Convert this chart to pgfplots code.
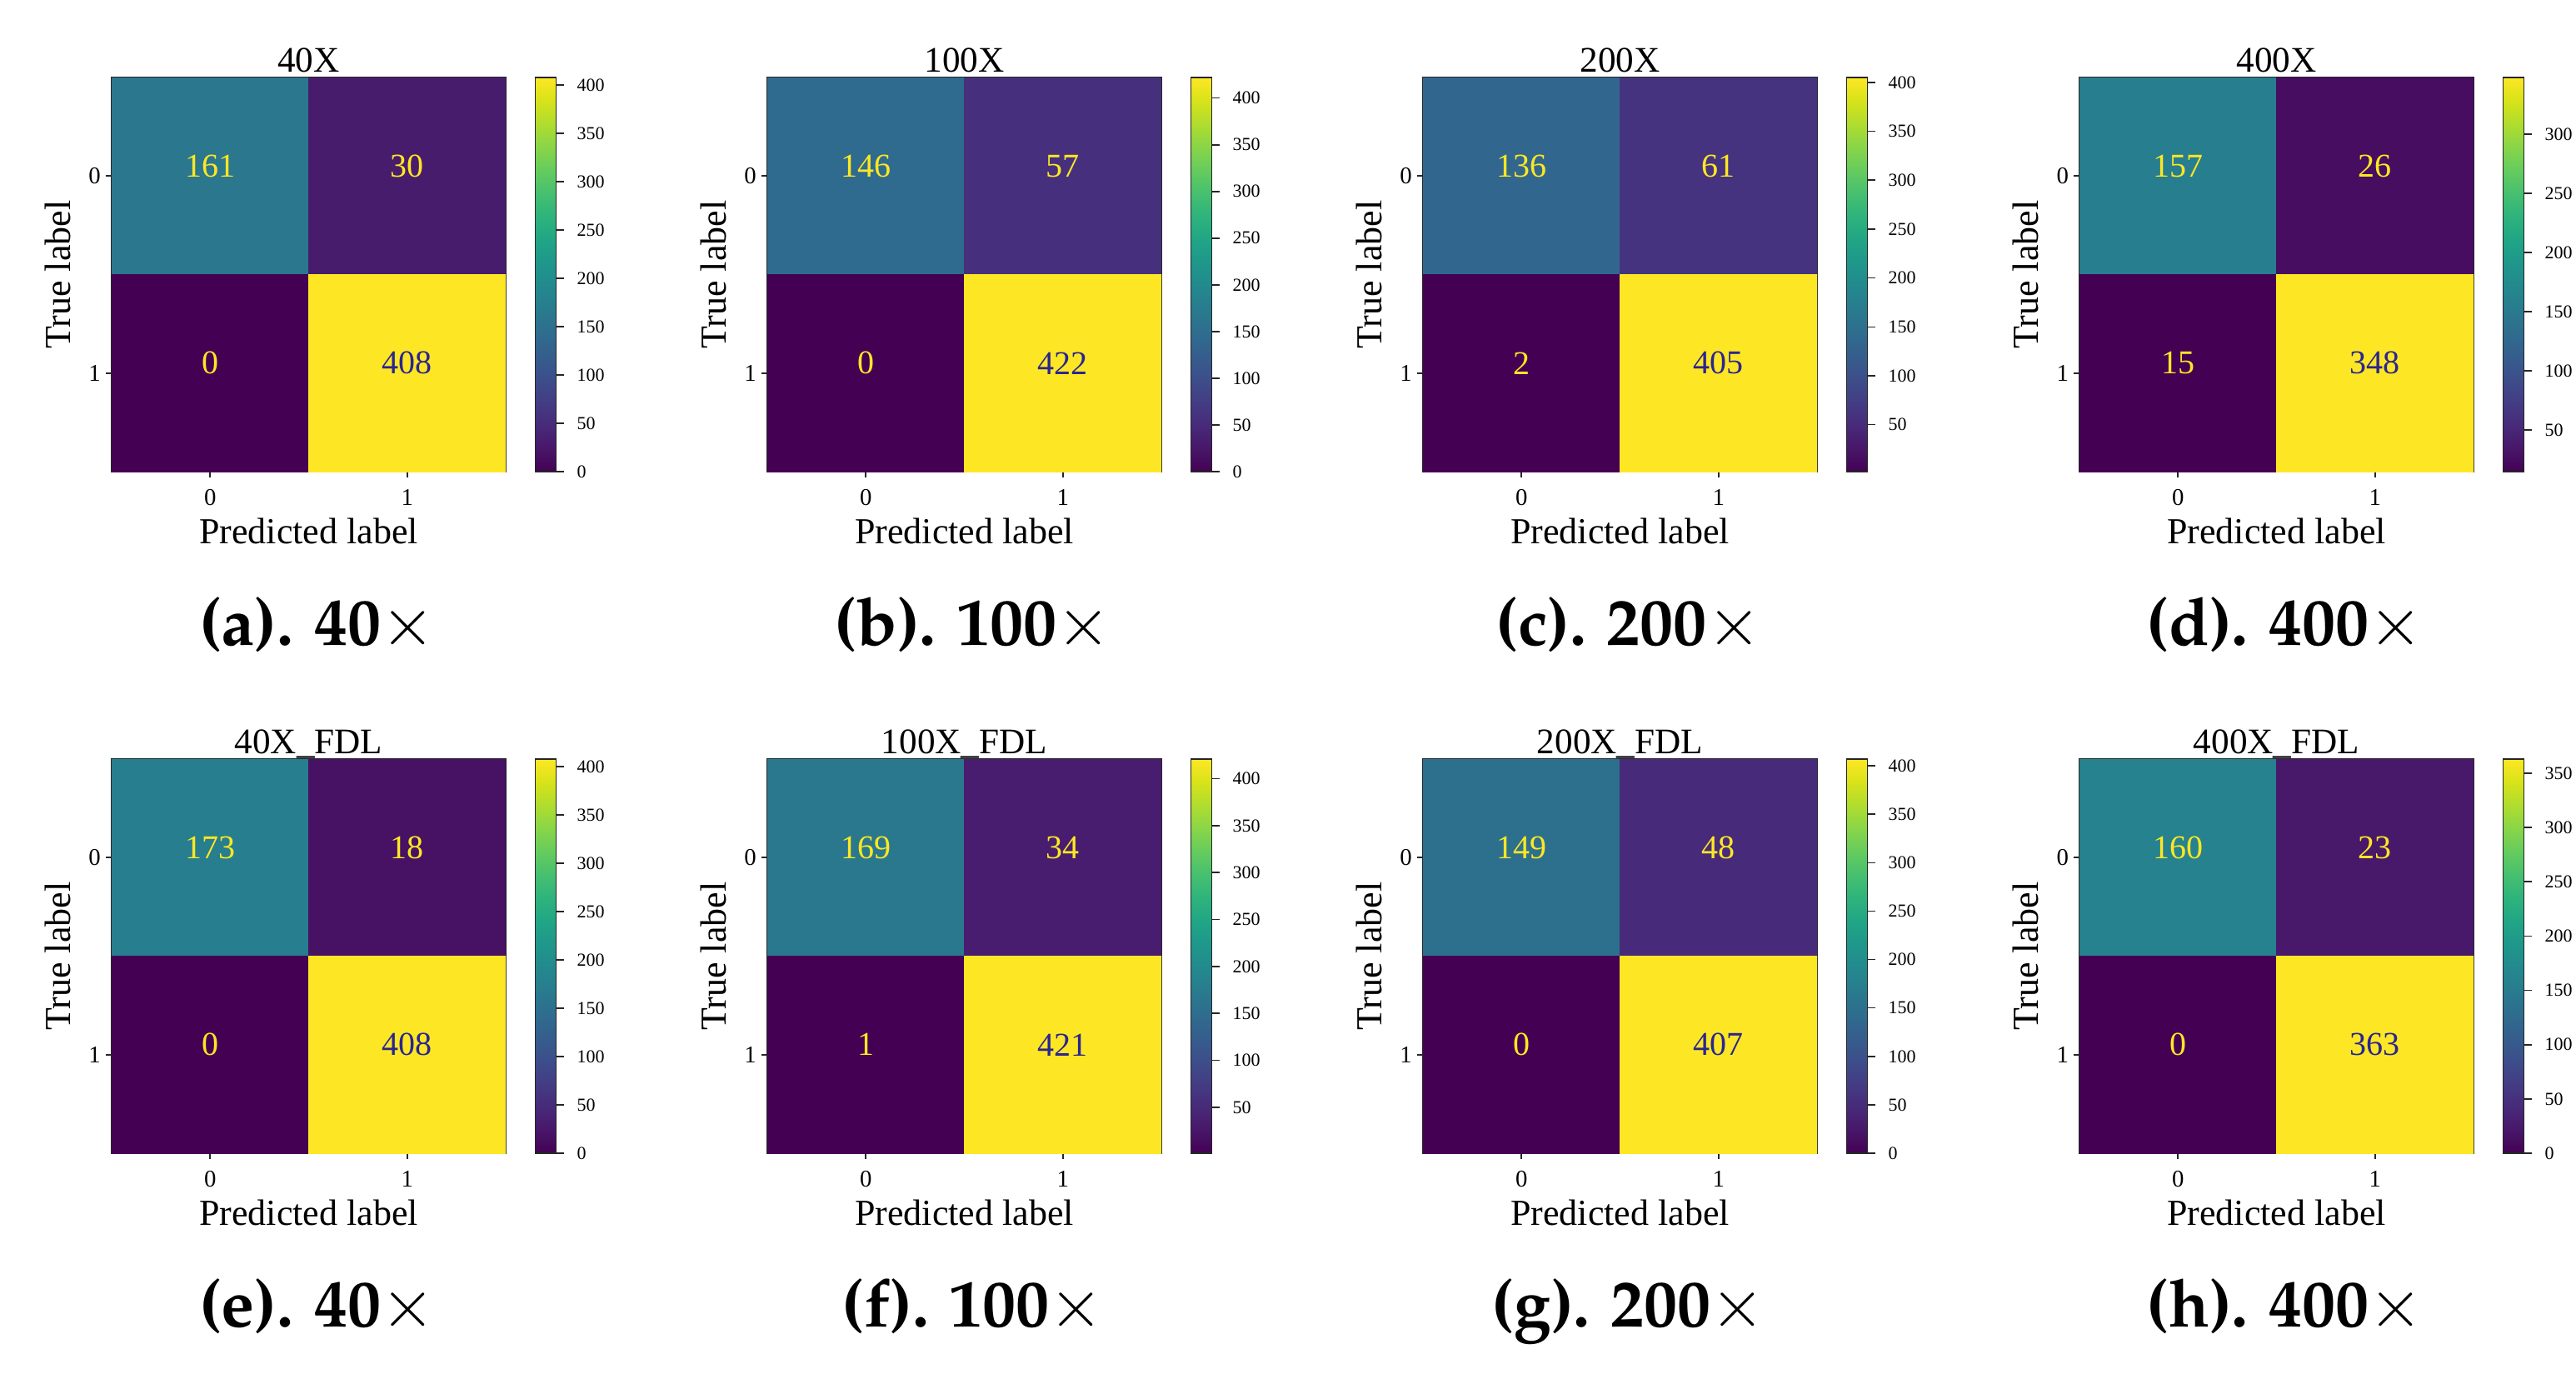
\documentclass[border=0pt]{standalone}
\usepackage{fontspec}
\setmainfont{Liberation Serif}
\usepackage{pgfplots}
\pgfplotsset{compat=1.18}
\definecolor{darktext}{HTML}{2A2590}
\definecolor{lighttext}{HTML}{FDE725}
\definecolor{framec}{HTML}{262626}
\newcommand{\capfont}{\fontencoding{T1}\fontfamily{ppl}\fontseries{b}\fontsize{20}{24}\selectfont}
\newcommand{\cellfont}{\fontsize{10}{12}\selectfont}
\pgfplotsset{
  /pgf/number format/assume math mode=true,
  cmstyle/.style={
    scale only axis, width=118.25pt, height=118.25pt,
    anchor=north west,
    xmin=-0.5, xmax=1.5, ymin=-0.5, ymax=1.5, y dir=reverse,
    xtick={0,1}, ytick={0,1},
    tick align=outside, major tick length=1.75pt,
    xtick pos=bottom, ytick pos=left,
    tick style={color=framec, line width=0.4pt},
    axis line style={color=framec, line width=0.6pt},
    ticklabel style={font=\fontsize{7.2}{8}\selectfont},
    yticklabel style={xshift=2pt},
    xlabel={Predicted label}, ylabel={True label},
    label style={font=\fontsize{11}{13}\selectfont},
    xlabel style={at={(0.5,-0.182)}, anchor=base},
    ylabel style={at={(-0.1374,0.5)}, anchor=center},
    title style={at={(0.5,1.0275)}, anchor=base, yshift=-7.5pt, font=\fontsize{10.8}{12}\selectfont},
    colormap/viridis,
    colorbar,
    colorbar style={
      at={(parent axis.north east)}, anchor=north west, xshift=0.35pt, width=6.25pt,
      ytick={0,50,...,400},
      ytick pos=right, yticklabel pos=right,
      yticklabel style={font=\fontsize{5.5}{6}\selectfont, xshift=0.5pt},
      major tick length=2.25pt, tick align=outside,
      tick style={color=framec, line width=0.4pt},
      axis line style={color=framec, line width=0.4pt},
    },
  }
}
\newcommand{\cmpanel}[8]{%
\begin{axis}[cmstyle, at={(#1,#2)}, title={#3}]
  \addplot[matrix plot*, mesh/cols=2, point meta=explicit]
    table[meta=c, row sep=\\]{x y c\\ 0 0 #4\\ 1 0 #5\\ 0 1 #6\\ 1 1 #7\\};
  \addplot[only marks, mark=none, point meta=explicit symbolic, nodes near coords,
    nodes near coords align=center,
    nodes near coords style={text=lighttext, font=\cellfont, anchor=center, yshift=3pt}]
    table[meta=c, row sep=\\]{x y c\\ 0 0 #4\\ 1 0 #5\\ 0 1 #6\\};
  \addplot[only marks, mark=none, point meta=explicit symbolic, nodes near coords,
    nodes near coords align=center,
    nodes near coords style={text=darktext, font=\cellfont, anchor=center, yshift=3pt}]
    table[meta=c, row sep=\\]{x y c\\ 1 1 #7\\};
\end{axis}
\node[anchor=base, inner sep=0pt] at ({#1+61.625pt},{#2-170.25pt}) {\capfont #8};
}
\begin{document}
\begin{tikzpicture}
\useasboundingbox (0,0) rectangle (773pt,-415pt);
\cmpanel{33.5pt}{-23.25pt}{40X}{161}{30}{0}{408}{(a). 40$\times$}
\cmpanel{230.25pt}{-23.25pt}{100X}{146}{57}{0}{422}{(b). 100$\times$}
\cmpanel{427pt}{-23.25pt}{200X}{136}{61}{2}{405}{(c). 200$\times$}
\cmpanel{624pt}{-23.25pt}{400X}{157}{26}{15}{348}{(d). 400$\times$}
\cmpanel{33.5pt}{-227.75pt}{40X\_FDL}{173}{18}{0}{408}{(e). 40$\times$}
\cmpanel{230.25pt}{-227.75pt}{100X\_FDL}{169}{34}{1}{421}{(f). 100$\times$}
\cmpanel{427pt}{-227.75pt}{200X\_FDL}{149}{48}{0}{407}{(g). 200$\times$}
\cmpanel{624pt}{-227.75pt}{400X\_FDL}{160}{23}{0}{363}{(h). 400$\times$}
\end{tikzpicture}
\end{document}
